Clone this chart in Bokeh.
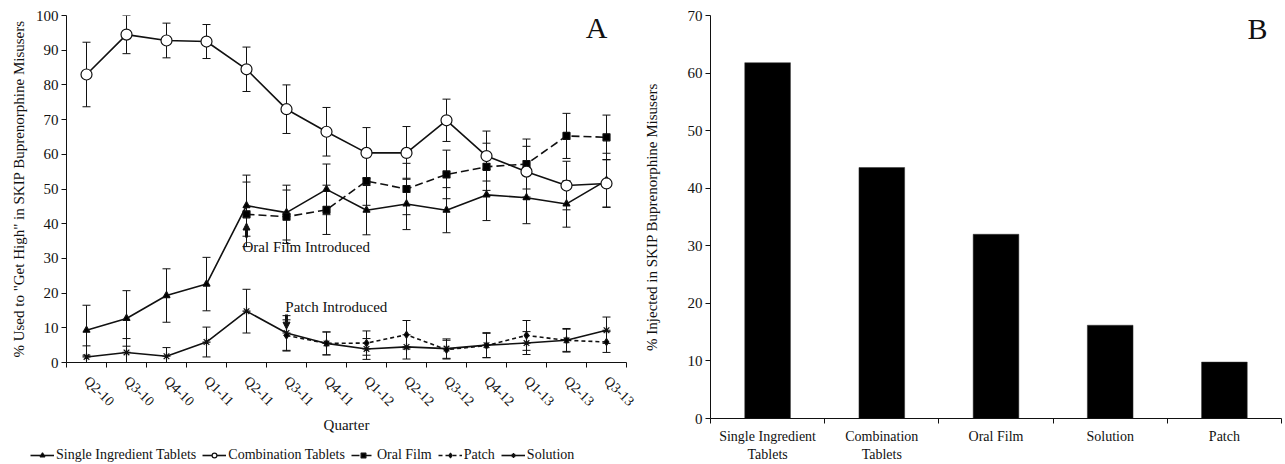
import math
from bokeh.plotting import figure
from bokeh.layouts import row, column
from bokeh.models import (Range1d, FixedTicker, ColumnDataSource, Whisker, TeeHead,
                          Legend, LegendItem, Label, Arrow, NormalHead)
from bokeh.embed import file_html
from bokeh.resources import INLINE

# ---------------- data ----------------
quarters = ["Q2-10", "Q3-10", "Q4-10", "Q1-11", "Q2-11", "Q3-11", "Q4-11",
            "Q1-12", "Q2-12", "Q3-12", "Q4-12", "Q1-13", "Q2-13", "Q3-13"]

single = [9.3, 12.7, 19.3, 22.6, 45.2, 43.2, 49.9, 43.9, 45.7, 43.9, 48.3, 47.5, 45.7, 52.5]
single_err = [7.2, 8.0, 7.7, 7.7, 8.8, 7.9, 7.3, 7.1, 7.4, 6.5, 7.4, 7.5, 6.7, 7.8]

combo = [83.0, 94.5, 92.8, 92.5, 84.5, 73.0, 66.5, 60.4, 60.4, 69.8, 59.5, 55.0, 51.0, 51.6]
combo_err = [9.3, 5.5, 5.0, 4.9, 6.4, 7.0, 7.0, 7.3, 7.6, 6.1, 7.2, 7.3, 7.0, 6.8]

oral_start = 4  # Oral Film introduced Q2-11
oral = [42.7, 42.0, 44.0, 52.3, 50.0, 54.2, 56.4, 57.2, 65.3, 64.9]
oral_err = [9.3, 7.7, 7.1, 7.0, 7.4, 7.0, 6.8, 7.2, 6.5, 6.4]

patch_start = 5  # Patch introduced Q3-11
patch = [7.8, 5.5, 5.6, 8.0, 3.7, 4.9, 7.8, 6.4, 5.9]
patch_err = [4.5, 3.3, 3.5, 4.1, 2.7, 3.5, 4.3, 3.4, 3.0]

solution = [1.6, 2.9, 1.8, 5.9, 14.8, 8.5, 5.5, 3.9, 4.5, 4.0, 5.0, 5.6, 6.4, 9.3]
solution_err = [3.2, 4.0, 2.5, 4.3, 6.3, 5.0, 3.3, 3.0, 3.5, 2.8, 3.6, 3.3, 3.2, 3.8]

forms = ["Single Ingredient\nTablets", "Combination\nTablets", "Oral Film", "Solution", "Patch"]
injected = [61.8, 43.6, 32.0, 16.2, 9.8]

FONT = "Liberation Serif"
INK = "#111111"

# marker / dash style of each series (used by lines and by the legend)
STYLES = {
    "Single Ingredient Tablets": dict(marker="triangle", size=7, lsize=7, dash="solid", fill="black"),
    "Combination Tablets": dict(marker="circle", size=11, lsize=9, dash="solid", fill="white"),
    "Oral Film": dict(marker="square", size=7, lsize=7, dash="8 4", fill="black"),
    "Patch": dict(marker="diamond", size=7, lsize=6, dash="4 3", fill="black"),
    "Solution": dict(marker="asterisk", size=8, lsize=9, dash="solid", fill="black"),
}


def style_axes(p, xfont, yfont):
    for ax in (p.xaxis[0], p.yaxis[0]):
        ax.axis_line_color = INK
        ax.major_tick_line_color = INK
        ax.major_label_text_font = FONT
        ax.major_label_text_color = INK
        ax.axis_label_text_font = FONT
        ax.axis_label_text_font_style = "normal"
        ax.axis_label_text_color = INK
        ax.axis_label_text_font_size = "15px"
    p.xaxis[0].major_label_text_font_size = xfont
    p.yaxis[0].major_label_text_font_size = yfont
    p.xaxis[0].minor_tick_line_color = INK
    p.yaxis[0].minor_tick_line_color = None


# ---------------- panel A ----------------
n = len(quarters)
pA = figure(width=640, height=436, output_backend="svg", toolbar_location=None,
            x_range=Range1d(-0.5, n - 0.5), y_range=Range1d(0, 100),
            min_border_left=66, min_border_right=14, min_border_top=15, min_border_bottom=73)
pA.frame_align = False
pA.outline_line_color = None
pA.grid.visible = False

xa = pA.xaxis[0]
xa.ticker = FixedTicker(ticks=list(range(n)), minor_ticks=[i - 0.5 for i in range(n + 1)])
xa.major_label_overrides = {i: q for i, q in enumerate(quarters)}
xa.major_label_orientation = -math.pi / 4
xa.major_tick_out = 0
xa.major_tick_in = 0
xa.minor_tick_out = 5
xa.minor_tick_in = 0
xa.major_label_standoff = 11
xa.axis_label = "Quarter"
xa.axis_label_standoff = 0

ya = pA.yaxis[0]
ya.ticker = FixedTicker(ticks=list(range(0, 101, 10)))
ya.major_tick_out = 5
ya.major_tick_in = 0
ya.major_label_standoff = 3
ya.axis_label = '% Used to "Get High" in SKIP Buprenorphine Misusers'
ya.axis_label_standoff = 6
style_axes(pA, "14px", "15px")


def add_series(xs, ys, errs, name):
    st = STYLES[name]
    lo = [max(0.0, y - e) for y, e in zip(ys, errs)]
    hi = [min(100.0, y + e) for y, e in zip(ys, errs)]
    src = ColumnDataSource(dict(x=xs, y=ys, lo=lo, hi=hi))
    w = Whisker(source=src, base="x", lower="lo", upper="hi", line_color=INK, line_width=1,
                upper_head=TeeHead(size=8, line_color=INK, line_width=1),
                lower_head=TeeHead(size=8, line_color=INK, line_width=1))
    pA.add_layout(w)
    pA.line("x", "y", source=src, line_color=INK, line_width=1.6, line_dash=st["dash"])
    pA.scatter("x", "y", source=src, marker=st["marker"], size=st["size"],
               fill_color=st["fill"], line_color=INK, line_width=1.2)


idx = list(range(n))
add_series(idx, single, single_err, "Single Ingredient Tablets")
add_series(idx, solution, solution_err, "Solution")
add_series(idx[patch_start:], patch, patch_err, "Patch")
add_series(idx[oral_start:], oral, oral_err, "Oral Film")
add_series(idx, combo, combo_err, "Combination Tablets")

pA.add_layout(Arrow(end=NormalHead(size=7, fill_color=INK, line_color=INK),
                    x_start=oral_start, y_start=36.0, x_end=oral_start, y_end=40.2,
                    line_width=3, line_color=INK))
pA.add_layout(Label(x=oral_start - 0.1, y=33.3, text="Oral Film Introduced",
                    text_font=FONT, text_font_size="15px", text_color=INK,
                    text_baseline="middle"))
pA.add_layout(Arrow(end=NormalHead(size=7, fill_color=INK, line_color=INK),
                    x_start=patch_start, y_start=13.8, x_end=patch_start, y_end=9.6,
                    line_width=3, line_color=INK))
pA.add_layout(Label(x=patch_start - 0.03, y=16.1, text="Patch Introduced",
                    text_font=FONT, text_font_size="15px", text_color=INK,
                    text_baseline="middle"))
pA.add_layout(Label(x=12.75, y=96.4, text="A", text_font=FONT, text_font_size="30px",
                    text_color=INK, text_align="center", text_baseline="middle"))

# ---------------- legend strip under panel A ----------------
pLeg = figure(width=640, height=28, output_backend="svg", toolbar_location=None,
              x_range=Range1d(0, 1), y_range=Range1d(0, 1),
              min_border_left=0, min_border_right=0, min_border_top=0, min_border_bottom=0)
pLeg.frame_align = False
pLeg.axis.visible = False
pLeg.grid.visible = False
pLeg.outline_line_color = None
items = []
for name in ["Single Ingredient Tablets", "Combination Tablets", "Oral Film", "Patch", "Solution"]:
    st = STYLES[name]
    # legend proxies: one point placed outside the visible range
    ln = pLeg.line(x=[-10, -9], y=[-10, -10], line_color=INK, line_width=1.6,
                   line_dash=st["dash"])
    sc = pLeg.scatter(x=[-10], y=[-10], marker=st["marker"], size=st["lsize"],
                      fill_color=st["fill"], line_color=INK, line_width=1.2)
    items.append(LegendItem(label=name, renderers=[ln, sc]))
legend = Legend(items=items, orientation="horizontal", location=(30, 1),
                border_line_color=None, background_fill_alpha=0,
                label_text_font=FONT, label_text_font_size="14px", label_text_color=INK,
                glyph_width=24, glyph_height=12, label_height=14, label_standoff=2,
                spacing=6, padding=0, margin=0)
pLeg.add_layout(legend)

# ---------------- panel B ----------------
m = len(forms)
pB = figure(width=643, height=464, output_backend="svg", toolbar_location=None,
            x_range=Range1d(-0.5, m - 0.5), y_range=Range1d(0, 70),
            min_border_left=65, min_border_right=2, min_border_top=15, min_border_bottom=42)
pB.frame_align = False
pB.outline_line_color = None
pB.grid.visible = False
pB.vbar(x=list(range(m)), top=injected, width=0.4, fill_color="black", line_color="#333333",
        line_width=0.5)

xb = pB.xaxis[0]
xb.ticker = FixedTicker(ticks=list(range(m)), minor_ticks=[i - 0.5 for i in range(m + 1)])
xb.major_label_overrides = {i: f for i, f in enumerate(forms)}
xb.major_tick_out = 0
xb.major_tick_in = 0
xb.minor_tick_out = 5
xb.minor_tick_in = 0
xb.major_label_standoff = 5

yb = pB.yaxis[0]
yb.ticker = FixedTicker(ticks=list(range(0, 71, 10)))
yb.major_tick_out = 5
yb.major_tick_in = 0
yb.major_label_standoff = 3
yb.axis_label = "% Injected in SKIP Buprenorphine Misusers"
yb.axis_label_standoff = 25
style_axes(pB, "14px", "15px")

pB.add_layout(Label(x=4.29, y=67.8, text="B", text_font=FONT, text_font_size="30px",
                    text_color=INK, text_align="center", text_baseline="middle"))

layout = row(column(pA, pLeg), pB)
open("out.html", "w").write(file_html(layout, INLINE))
